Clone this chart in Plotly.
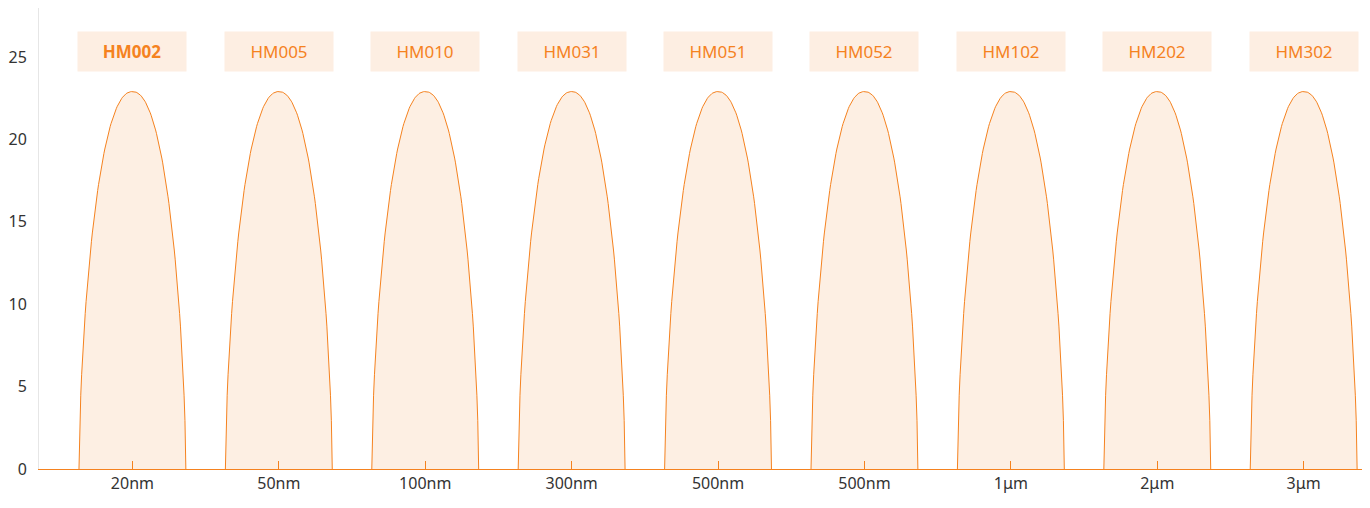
import numpy as np
import plotly.graph_objects as go

categories = ["20nm", "50nm", "100nm", "300nm", "500nm", "500nm", "1μm", "2μm", "3μm"]
models = ["HM002", "HM005", "HM010", "HM031", "HM051", "HM052", "HM102", "HM202", "HM302"]
values = [22.9, 22.9, 22.9, 22.9, 22.9, 22.9, 22.9, 22.9, 22.9]

orange = "#f5821f"
fill = "rgba(253,236,222,0.85)"

fig = go.Figure()
half = 0.365
t = np.linspace(-1, 1, 121)
for i, v in enumerate(values):
    # arch-shaped bar
    xs = i + t * half
    ys = v * (1 - np.abs(t) ** 2.2) ** 0.62
    fig.add_trace(go.Scatter(x=xs, y=ys, mode="lines", fill="toself", fillcolor=fill,
                             line=dict(color=orange, width=1), hoverinfo="skip", showlegend=False))
    fig.add_annotation(x=i, y=25.35, text="<b>%s</b>" % models[i] if i == 0 else models[i],
                       showarrow=False, font=dict(size=17, color=orange, family="Noto Sans"),
                       bgcolor="#fdeee2", width=104, height=35, borderpad=2)

fig.update_layout(
    width=1362, height=500, margin=dict(l=22, r=0, t=0, b=39),
    plot_bgcolor="white", paper_bgcolor="white",
    font=dict(family="Noto Sans", size=16, color="#333"),
    xaxis=dict(range=[-0.638, 8.453], tickvals=list(range(9)), ticktext=categories,
               showgrid=False, zeroline=False, showline=True, linecolor=orange, linewidth=1,
               ticks="inside", ticklen=8, tickcolor=orange),
    yaxis=dict(range=[0, 27.97], tickvals=[0, 5, 10, 15, 20, 25], showgrid=False, zeroline=False,
               showline=True, linecolor="#e6e6e6", ticks="", ticklabelstandoff=8),
)
fig.write_html("out.html")
